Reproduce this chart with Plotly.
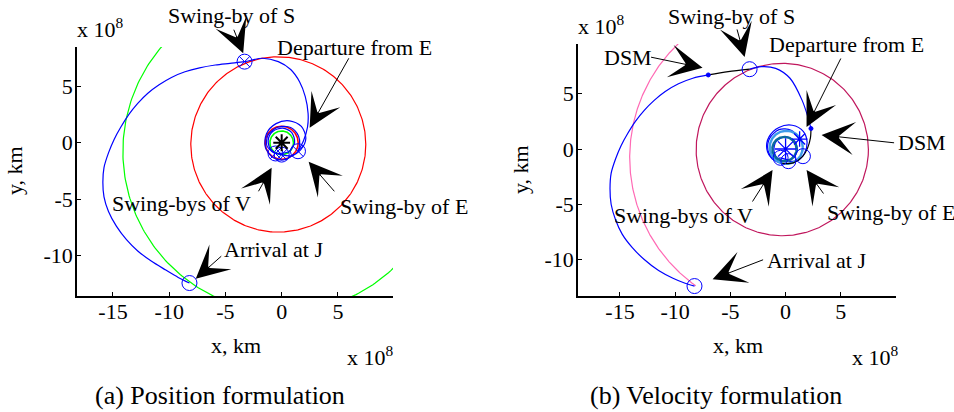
import numpy as np
import plotly.graph_objects as go

W, H = 954, 412

# ---------------- data (units: 1e8 km) ----------------
# planetary orbits, order V, E, S, J : centre x, centre y, radius
orbit_names = ["V", "E", "S", "J"]
orbit_a_cx = [0.0, 0.0, -0.3, 0.14]
orbit_a_cy = [0.0, 0.0, -0.15, -0.77]
orbit_a_r = [1.05, 1.47, 7.78, 14.26]
orbit_b_cx = [-0.1, 0.06, -0.3, 0.14]
orbit_b_cy = [0.0, 0.15, -0.05, -0.77]
orbit_b_r = [1.1, 1.5, 7.8, 14.26]
j_arc_b_deg = [120.0, 234.5]  # visible part of J orbit in panel (b)

# panel (a) trajectory legs
a_leg1_x = [1.1, 0.3, -0.7, -1.45, -1.35, -0.5, 0.7, 1.75, 2.15, 1.7, 0.8, 0.0]
a_leg1_y = [-1.0, -1.5, -1.35, -0.4, 0.8, 1.7, 1.95, 1.45, 0.4, -0.6, -1.15, -1.05]
a_leg2_x = [0.0, -0.9, -1.2, -0.8, 0.1, 0.9, 1.15, 0.6, -0.55]
a_leg2_y = [-1.05, -0.75, 0.2, 1.0, 1.3, 0.9, 0.0, -0.8, -0.95]
a_leg3_x = [-0.55, -1.3, -1.2, -0.3, 0.8, 1.5, 1.6, 1.45]
a_leg3_y = [-0.95, -0.3, 0.7, 1.4, 1.35, 0.6, -0.2, -0.75]
a_leg4_x = [1.45, 1.95, 2.3, 2.35, 2.1, 1.6, 0.8, -0.3, -1.7, -3.3,
            -4.6, -5.9, -7.3, -8.6, -9.8, -10.9, -11.9, -12.8, -13.6, -14.3, -14.9,
            -15.4, -15.8, -15.9, -15.8, -15.4, -14.7, -13.8, -12.8, -11.6, -10.3, -9.2, -8.2]
a_leg4_y = [-0.75, 0.2, 1.4, 2.6, 4.1, 5.4, 6.5, 7.2, 7.5, 7.2,
            7.05, 6.9, 6.65, 6.3, 5.8, 5.15, 4.4, 3.5, 2.5, 1.4, 0.3,
            -0.9, -2.2, -3.5, -4.8, -6.1, -7.4, -8.6, -9.6, -10.5, -11.3, -11.95, -12.45]
a_swingby_x = [0.0, -0.55, 1.45, -3.3]
a_swingby_y = [-1.05, -0.95, -0.75, 7.2]
a_arrival_x = [-8.2]
a_arrival_y = [-12.45]
sun_x = [0.0]
sun_y = [0.0]

# panel (b) trajectory legs (blue = after DSM, black = coast before DSM)
b_leg1_x = [1.27, 0.5, -0.6, -1.45, -1.6, -1.15, -0.45]
b_leg1_y = [0.9, 1.7, 1.75, 0.95, -0.1, -0.85, -0.8]
b_leg2_x = [-0.45, 0.5, 1.05, 0.85, 0.0, -0.85, -1.05, -0.6, 0.25]
b_leg2_y = [-0.8, -0.95, -0.2, 0.7, 1.1, 0.7, -0.2, -0.95, -1.1]
b_leg3_x = [0.25, 1.1, 1.7, 1.95, 1.6, 0.6, -0.6, -1.5, -1.7, -1.2, -0.3]
b_leg3_y = [-1.1, -1.05, -0.4, 0.6, 1.6, 2.15, 1.95, 1.1, 0.0, -0.9, -1.3]
b_leg4_x = [-0.3, 0.7, 1.57, 2.0, 2.25, 2.3]
b_leg4_y = [-1.3, -1.25, -0.65, 0.1, 1.0, 1.85]
b_leg5_x = [2.3, 2.05, 1.5, 0.4, -0.9, -2.2, -3.26]
b_leg5_y = [1.85, 2.8, 4.4, 6.4, 7.3, 7.45, 7.22]
b_leg6_x = [-3.26, -5.2, -7.0]
b_leg6_y = [7.22, 7.0, 6.7]
b_leg7_x = [-7.0, -8.4, -9.7, -10.9, -11.9, -12.8, -13.6, -14.3, -14.9, -15.4,
            -15.8, -15.9, -15.8, -15.4, -14.8, -13.9, -12.8, -11.5, -10.2, -9.1, -8.25]
b_leg7_y = [6.7, 6.4, 5.9, 5.2, 4.4, 3.5, 2.5, 1.4, 0.3, -0.9,
            -2.2, -3.6, -5.0, -6.4, -7.7, -8.9, -10.0, -11.0, -11.7, -12.15, -12.4]
b_flyby_x = [-0.45, 0.25, 1.57, -3.26, -8.25]
b_flyby_y = [-0.8, -1.1, -0.65, 7.22, -12.4]
b_star_x = [0.0, 1.27]
b_star_y = [0.0, 0.9]
b_dsm_x = [-7.0, 2.3]
b_dsm_y = [6.7, 1.85]

tick_vals = [-15, -10, -5, 0, 5]
tick_text = ["-15", "-10", "-5", "0", "5"]
ytick_vals = [-10, -5, 0, 5]
ytick_text = ["-10", "-5", "0", "5"]

# ---------------- figure ----------------
FONT = "Liberation Serif, Times New Roman, serif"
fig = go.Figure()


def circle_pts(cx, cy, r, a0=0.0, a1=360.0, n=361):
    t = np.radians(np.linspace(a0, a1, n))
    return cx + r * np.cos(t), cy + r * np.sin(t)


def line(x, y, color, xa, ya, width=1.2, spline=True):
    fig.add_trace(go.Scatter(x=x, y=y, mode="lines", xaxis=xa, yaxis=ya,
                             line=dict(color=color, width=width,
                                       shape="spline" if spline else "linear", smoothing=0.9),
                             hoverinfo="skip", showlegend=False))


def markers(x, y, symbol, color, size, xa, ya, lw=1.0):
    fig.add_trace(go.Scatter(x=x, y=y, mode="markers", xaxis=xa, yaxis=ya,
                             marker=dict(symbol=symbol, size=size, color=color,
                                         line=dict(color=color, width=lw)),
                             hoverinfo="skip", showlegend=False))


# ---- panel (a)
a_cols = ["#00ff00", "#ff0000", "#ff0000", "#00ff00"]
for i in [3, 2]:
    px_, py_ = circle_pts(orbit_a_cx[i], orbit_a_cy[i], orbit_a_r[i])
    line(px_, py_, a_cols[i], "x", "y", spline=False)
line(a_leg4_x, a_leg4_y, "#0000ff", "x", "y")
for i in [1, 0]:
    px_, py_ = circle_pts(orbit_a_cx[i], orbit_a_cy[i], orbit_a_r[i])
    line(px_, py_, a_cols[i], "x", "y", width=1.6, spline=False)
for lx, ly in [(a_leg1_x, a_leg1_y), (a_leg2_x, a_leg2_y), (a_leg3_x, a_leg3_y)]:
    line(lx, ly, "#0000ff", "x", "y")
markers(a_swingby_x + a_arrival_x, a_swingby_y + a_arrival_y, "circle-open", "#0000ff", 15, "x", "y")
markers(a_swingby_x, a_swingby_y, "x-thin-open", "#0000ff", 11, "x", "y")
markers(sun_x, sun_y, "asterisk-open", "#000000", 14, "x", "y", lw=2)

# ---- panel (b)
b_cols = ["#0a6a9c", "#3d9be9", "#c0175d", "#ff69b4"]
px_, py_ = circle_pts(orbit_b_cx[3], orbit_b_cy[3], orbit_b_r[3], j_arc_b_deg[0], j_arc_b_deg[1])
line(px_, py_, b_cols[3], "x2", "y2", spline=False)
px_, py_ = circle_pts(orbit_b_cx[2], orbit_b_cy[2], orbit_b_r[2])
line(px_, py_, b_cols[2], "x2", "y2", spline=False)
for lx, ly in [(b_leg1_x, b_leg1_y), (b_leg2_x, b_leg2_y), (b_leg3_x, b_leg3_y)]:
    line(lx, ly, "#0000ff", "x2", "y2")
for i in [1, 0]:
    px_, py_ = circle_pts(orbit_b_cx[i], orbit_b_cy[i], orbit_b_r[i])
    line(px_, py_, b_cols[i], "x2", "y2", width=2.4, spline=False)
for lx, ly in [(b_leg5_x, b_leg5_y), (b_leg7_x, b_leg7_y)]:
    line(lx, ly, "#0000ff", "x2", "y2")
for lx, ly in [(b_leg4_x, b_leg4_y), (b_leg6_x, b_leg6_y)]:
    line(lx, ly, "#000000", "x2", "y2")
markers(b_flyby_x, b_flyby_y, "circle-open", "#0000ff", 15, "x2", "y2")
markers(b_star_x[:1], b_star_y[:1], "asterisk-open", "#0000ff", 18, "x2", "y2", lw=1.3)
markers(b_star_x[1:], b_star_y[1:], "asterisk-open", "#0000ff", 13, "x2", "y2", lw=1.3)
markers(b_dsm_x, b_dsm_y, "circle", "#0000ff", 4, "x2", "y2")


# ---------------- layout ----------------
def axis_style(domain, rng, tv, tt, anchor):
    return dict(domain=domain, range=rng, anchor=anchor, showline=True, linecolor="black",
                linewidth=1.5, ticks="inside", ticklen=4, tickwidth=1, tickcolor="black",
                showgrid=False, zeroline=False, tickvals=tv, ticktext=tt,
                tickfont=dict(family=FONT, size=22, color="black"), fixedrange=True)


fig.update_layout(
    width=W, height=H, margin=dict(l=0, r=0, t=0, b=0),
    paper_bgcolor="white", plot_bgcolor="white", showlegend=False,
    xaxis=axis_style([77 / W, 393 / W], [-18.2, 9.9], tick_vals, tick_text, "y"),
    yaxis=axis_style([1 - 296 / H, 1 - 47 / H], [-13.6, 8.5], ytick_vals, ytick_text, "x"),
    xaxis2=axis_style([578 / W, 896 / W], [-18.8, 10.0], tick_vals, tick_text, "y2"),
    yaxis2=axis_style([1 - 296 / H, 1 - 44 / H], [-13.3, 9.5], ytick_vals, ytick_text, "x2"),
)
for ax in ["xaxis", "xaxis2"]:
    fig.layout[ax].ticklabelstandoff = -5
for ax in ["yaxis", "yaxis2"]:
    fig.layout[ax].ticklabelstandoff = -2

ann = []


def label(text, xc, yc, xanchor="center", size=22, angle=0):
    ann.append(dict(x=xc / W, y=1 - yc / H, xref="paper", yref="paper", text=text,
                    showarrow=False, xanchor=xanchor, yanchor="middle", textangle=angle,
                    font=dict(family=FONT, size=size, color="black")))


def arrow(xa, ya, x, y, dx, dy):
    ann.append(dict(x=x, y=y, xref=xa, yref=ya, ax=dx, ay=dy, text="", showarrow=True,
                    arrowhead=3, arrowsize=5.5, arrowwidth=1, arrowcolor="black"))


# panel (a) texts
label("Swing-by of S", 231, 16)
label("Departure from E", 275, 47, xanchor="left")
label("Swing-bys of V", 181, 203)
label("Swing-by of E", 338, 206, xanchor="left")
label("Arrival at J", 222, 250, xanchor="left")
label("x 10<sup>8</sup>", 75, 28, xanchor="left")
label("x 10<sup>8</sup>", 345, 356, xanchor="left")
label("x, km", 236, 345)
label("y, km", 15, 171, angle=-90)
label("(a) Position formulation", 220, 395, size=26)
arrow("x", "y", -3.42, 7.95, -10, -25)
arrow("x", "y", 2.49, 1.33, 40, -71)
arrow("x", "y", -0.89, -2.22, -14, 25)
arrow("x", "y", 2.4, -1.69, 27, 31)
arrow("x", "y", -7.64, -12.08, 27, -24)

# panel (b) texts
label("Swing-by of S", 731, 17)
label("DSM", 628, 58)
label("Departure from E", 767, 45, xanchor="left")
label("DSM", 896, 143, xanchor="left")
label("Swing-bys of V", 683, 215)
label("Swing-by of E", 825, 212, xanchor="left")
label("Arrival at J", 765, 260, xanchor="left")
label("x 10<sup>8</sup>", 576, 25, xanchor="left")
label("x 10<sup>8</sup>", 850, 356, xanchor="left")
label("x, km", 738, 345)
label("y, km", 520, 170, angle=-90)
label("(b) Velocity formulation", 716, 395, size=26)
arrow("x2", "y2", -3.71, 8.33, -8, -29)
arrow("x2", "y2", -7.52, 7.34, -53, -11)
arrow("x2", "y2", 1.9, 1.99, 35, -70)
arrow("x2", "y2", 3.26, 1.27, 74, 8)
arrow("x2", "y2", -1.18, -1.9, -21, 33)
arrow("x2", "y2", 1.9, -1.9, 18, 25)
arrow("x2", "y2", -6.61, -11.78, 52, -20)

fig.update_layout(annotations=ann)
fig.write_html("out.html")
